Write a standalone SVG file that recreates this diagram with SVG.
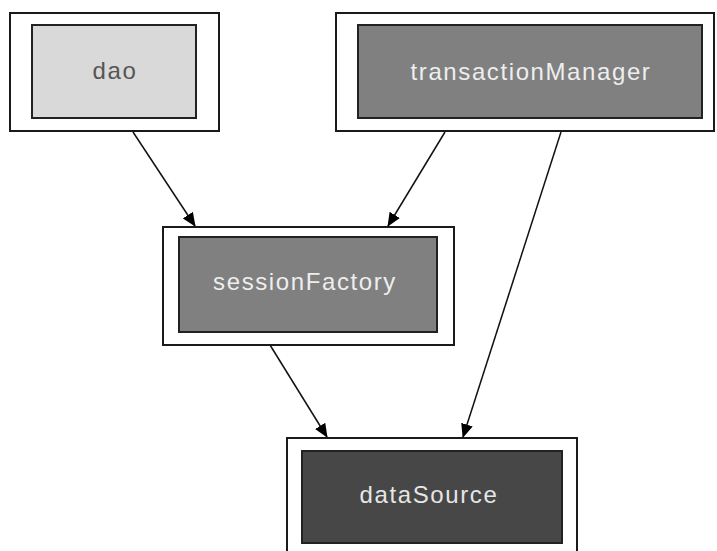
<svg xmlns="http://www.w3.org/2000/svg" width="717" height="551" viewBox="0 0 717 551">
<style>
.outer{fill:#fff;stroke:#1a1a1a;stroke-width:2}
.inner{stroke:#222;stroke-width:2}
.lbl{font-family:"Liberation Sans",Arial,sans-serif;font-size:24px;letter-spacing:1.6px;text-anchor:middle}
.edge{stroke:#111;stroke-width:1.5;fill:none;marker-end:url(#ah)}
</style>
<defs>
<marker id="ah" markerUnits="userSpaceOnUse" markerWidth="14" markerHeight="12" refX="13" refY="6" orient="auto">
<path d="M0,0 L14,6 L0,12 z" fill="#000"/>
</marker>
</defs>
<rect width="717" height="551" fill="#fff"/>
<g id="connectors">
<line class="edge" x1="133" y1="132" x2="195" y2="226"/>
<line class="edge" x1="445" y1="132" x2="388" y2="226"/>
<line class="edge" x1="270" y1="345" x2="327" y2="437"/>
<line class="edge" x1="561" y1="132" x2="463" y2="437"/>
</g>
<g id="dao">
<rect class="outer" x="10" y="13" width="209" height="118"/>
<rect class="inner" x="32" y="25" width="164" height="93" fill="#d9d9d9"/>
<text class="lbl" x="115" y="79" fill="#555">dao</text>
</g>
<g id="transactionManager">
<rect class="outer" x="336" y="13" width="378" height="118"/>
<rect class="inner" x="358" y="25" width="344" height="93" fill="#808080"/>
<text class="lbl" x="531" y="80" fill="#eeeeee">transactionManager</text>
</g>
<g id="sessionFactory">
<rect class="outer" x="163" y="227" width="291" height="118"/>
<rect class="inner" x="179" y="237" width="258" height="95" fill="#808080"/>
<text class="lbl" x="305" y="290" fill="#eeeeee">sessionFactory</text>
</g>
<g id="dataSource">
<rect class="outer" x="287" y="438" width="290" height="125"/>
<rect class="inner" x="302" y="451" width="260" height="92" fill="#474747"/>
<text class="lbl" x="429" y="503" fill="#e6e6e6">dataSource</text>
</g>
</svg>
